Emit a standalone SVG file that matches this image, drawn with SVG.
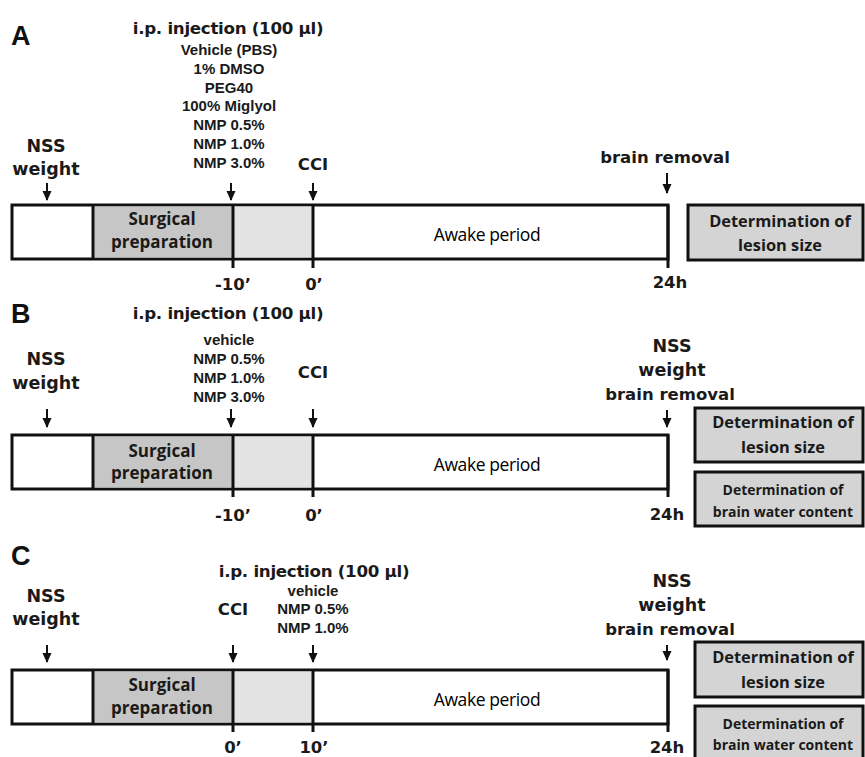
<svg xmlns="http://www.w3.org/2000/svg" width="865" height="757" viewBox="0 0 865 757">
<style>
.bg{fill:#ffffff}
.hd{font-family:"DejaVu Sans",sans-serif;font-weight:bold;font-size:16.7px;fill:#1a1a1a;text-anchor:middle;letter-spacing:-0.3px}
.lb{font-family:"DejaVu Sans",sans-serif;font-weight:bold;font-size:17.5px;fill:#1a1a1a;text-anchor:middle}
.tk{font-family:"DejaVu Sans",sans-serif;font-weight:bold;font-size:16.5px;fill:#1a1a1a;text-anchor:middle}
.sm{font-family:"Liberation Sans",Arial,sans-serif;font-weight:bold;font-size:15px;fill:#1a1a1a;text-anchor:middle}
.pn{font-family:"Liberation Sans",Arial,sans-serif;font-weight:bold;font-size:27px;fill:#111}
.bx{font-family:"Open Sans",sans-serif;font-weight:bold;font-size:16.4px;fill:#1a1a1a;text-anchor:middle}
.bxs{font-family:"Open Sans",sans-serif;font-weight:bold;font-size:14px;fill:#1a1a1a;text-anchor:middle}
.sp{font-family:"Open Sans",sans-serif;font-weight:bold;font-size:17px;fill:#1a1a1a;text-anchor:middle}
.aw{font-family:"Open Sans",sans-serif;font-weight:500;font-size:17.5px;fill:#000;text-anchor:middle;letter-spacing:-0.4px}
.bar{fill:#ffffff;stroke:#111;stroke-width:3}
.sg{fill:#c6c6c6}
.lt{fill:#e3e3e3}
.box{fill:#d4d4d4;stroke:#111;stroke-width:3}
.ln{stroke:#111;stroke-width:3;fill:none}
.ar{stroke:#111;stroke-width:2;fill:none;marker-end:url(#ah)}
</style>
<defs>
<marker id="ah" markerUnits="userSpaceOnUse" markerWidth="10" markerHeight="10" viewBox="0 0 10 10" refX="9" refY="5" orient="auto">
<path d="M0,0.5 L10,5 L0,9.5 z" fill="#111"/>
</marker>
</defs>
<rect class="bg" x="0" y="0" width="865" height="757"/>

<!-- Panel A -->
<g id="panelA">
<text class="pn" x="11" y="45">A</text>
<g id="A-bar">
<rect class="bar" x="12" y="205" width="656" height="54"/>
<rect class="sg" x="93" y="206.5" width="140" height="51"/>
<rect class="lt" x="233" y="206.5" width="80" height="51"/>
<line class="ln" x1="93" y1="205" x2="93" y2="259"/>
<line class="ln" x1="233" y1="205" x2="233" y2="268"/>
<line class="ln" x1="313" y1="205" x2="313" y2="268"/>
<line class="ln" x1="668" y1="205" x2="668" y2="268"/>
<text class="sp" x="162" y="225">Surgical</text>
<text class="sp" x="162" y="248">preparation</text>
<text class="aw" x="487" y="241">Awake period</text>
</g>
<g id="A-nss"><text class="lb" x="46" y="152">NSS</text><text class="lb" x="46" y="175">weight</text></g>
<g id="A-inj">
<text class="hd" x="228" y="34">i.p. injection (100 µl)</text>
<text class="sm" x="229" y="55">Vehicle (PBS)</text>
<text class="sm" x="229" y="74">1% DMSO</text>
<text class="sm" x="229" y="93">PEG40</text>
<text class="sm" x="229" y="111">100% Miglyol</text>
<text class="sm" x="229" y="130">NMP 0.5%</text>
<text class="sm" x="229" y="149">NMP 1.0%</text>
<text class="sm" x="229" y="168">NMP 3.0%</text>
</g>
<g id="A-cci"><text class="tk" x="313" y="170">CCI</text></g>
<g id="A-br"><text class="tk" x="665" y="163">brain removal</text></g>
<g id="A-ticks">
<text class="tk" x="233" y="290">-10’</text>
<text class="tk" x="314" y="290">0’</text>
<text class="tk" x="670" y="288">24h</text>
</g>
<g id="A-lesion">
<rect class="box" x="688" y="205" width="175" height="55"/>
<text class="bx" x="780" y="227">Determination of</text>
<text class="bx" x="780" y="251">lesion size</text>
</g>
</g>

<!-- Panel B -->
<g id="panelB">
<text class="pn" x="11" y="323">B</text>
<g id="B-bar">
<rect class="bar" x="12" y="435" width="656" height="54"/>
<rect class="sg" x="93" y="436.5" width="140" height="51"/>
<rect class="lt" x="233" y="436.5" width="80" height="51"/>
<line class="ln" x1="93" y1="435" x2="93" y2="489"/>
<line class="ln" x1="233" y1="435" x2="233" y2="497"/>
<line class="ln" x1="313" y1="435" x2="313" y2="497"/>
<line class="ln" x1="668" y1="435" x2="668" y2="497"/>
<text class="sp" x="162" y="457">Surgical</text>
<text class="sp" x="162" y="479">preparation</text>
<text class="aw" x="487" y="471">Awake period</text>
</g>
<g id="B-nss"><text class="lb" x="46" y="365">NSS</text><text class="lb" x="46" y="389">weight</text></g>
<g id="B-inj">
<text class="hd" x="228" y="319">i.p. injection (100 µl)</text>
<text class="sm" x="229" y="345">vehicle</text>
<text class="sm" x="229" y="364">NMP 0.5%</text>
<text class="sm" x="229" y="383">NMP 1.0%</text>
<text class="sm" x="229" y="402">NMP 3.0%</text>
</g>
<g id="B-cci"><text class="tk" x="313" y="378">CCI</text></g>
<g id="B-end">
<text class="lb" x="672" y="352">NSS</text>
<text class="lb" x="672" y="376">weight</text>
<text class="tk" x="670" y="400">brain removal</text>
</g>
<g id="B-ticks">
<text class="tk" x="233" y="521">-10’</text>
<text class="tk" x="314" y="521">0’</text>
<text class="tk" x="667" y="520">24h</text>
</g>
<g id="B-lesion">
<rect class="box" x="695" y="408" width="168" height="54"/>
<text class="bx" x="783" y="428">Determination of</text>
<text class="bx" x="783" y="453">lesion size</text>
</g>
<g id="B-water">
<rect class="box" x="695" y="472" width="168" height="54"/>
<text class="bxs" x="783" y="495">Determination of</text>
<text class="bxs" x="783" y="517">brain water content</text>
</g>
</g>

<!-- Panel C -->
<g id="panelC">
<text class="pn" x="11" y="565">C</text>
<g id="C-bar">
<rect class="bar" x="12" y="670" width="656" height="54"/>
<rect class="sg" x="93" y="671.5" width="140" height="51"/>
<rect class="lt" x="233" y="671.5" width="80" height="51"/>
<line class="ln" x1="93" y1="670" x2="93" y2="724"/>
<line class="ln" x1="233" y1="670" x2="233" y2="732"/>
<line class="ln" x1="313" y1="670" x2="313" y2="732"/>
<line class="ln" x1="668" y1="670" x2="668" y2="732"/>
<text class="sp" x="162" y="691">Surgical</text>
<text class="sp" x="162" y="714">preparation</text>
<text class="aw" x="487" y="706">Awake period</text>
</g>
<g id="C-nss"><text class="lb" x="46" y="602">NSS</text><text class="lb" x="46" y="625">weight</text></g>
<g id="C-cci"><text class="tk" x="233" y="615">CCI</text></g>
<g id="C-inj">
<text class="hd" x="314" y="577">i.p. injection (100 µl)</text>
<text class="sm" x="313" y="596">vehicle</text>
<text class="sm" x="313" y="614">NMP 0.5%</text>
<text class="sm" x="313" y="633">NMP 1.0%</text>
</g>
<g id="C-end">
<text class="lb" x="672" y="587">NSS</text>
<text class="lb" x="672" y="611">weight</text>
<text class="tk" x="670" y="635">brain removal</text>
</g>
<g id="C-ticks">
<text class="tk" x="233" y="753">0’</text>
<text class="tk" x="314" y="753">10’</text>
<text class="tk" x="667" y="753">24h</text>
</g>
<g id="C-lesion">
<rect class="box" x="695" y="642" width="168" height="55"/>
<text class="bx" x="783" y="663">Determination of</text>
<text class="bx" x="783" y="688">lesion size</text>
</g>
<g id="C-water">
<rect class="box" x="695" y="706" width="168" height="60"/>
<text class="bxs" x="783" y="729">Determination of</text>
<text class="bxs" x="783" y="750">brain water content</text>
</g>
</g>

<!-- Connectors (arrows) -->
<g id="connectors">
<line class="ar" x1="47" y1="183" x2="47" y2="200"/>
<line class="ar" x1="231" y1="183" x2="231" y2="200"/>
<line class="ar" x1="313" y1="183" x2="313" y2="200"/>
<line class="ar" x1="667" y1="173" x2="667" y2="193"/>
<line class="ar" x1="47" y1="409" x2="47" y2="427"/>
<line class="ar" x1="231" y1="409" x2="231" y2="427"/>
<line class="ar" x1="313" y1="409" x2="313" y2="427"/>
<line class="ar" x1="667" y1="410" x2="667" y2="427"/>
<line class="ar" x1="47" y1="645" x2="47" y2="662"/>
<line class="ar" x1="233" y1="645" x2="233" y2="662"/>
<line class="ar" x1="313" y1="645" x2="313" y2="662"/>
<line class="ar" x1="667" y1="645" x2="667" y2="660"/>
</g>
</svg>
